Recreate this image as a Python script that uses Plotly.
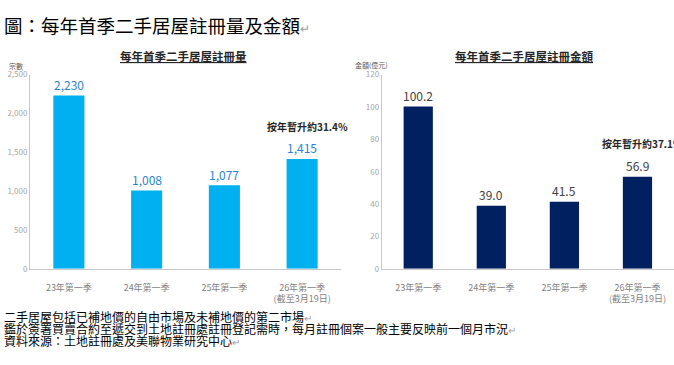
import plotly.graph_objects as go

# ---- data ----
categories = ["23年第一季", "24年第一季", "25年第一季", "26年第一季<br>(截至3月19日)"]
registrations = [2230, 1008, 1077, 1415]
amounts = [100.2, 39.0, 41.5, 56.9]
reg_ticks = [0, 500, 1000, 1500, 2000, 2500]
reg_tick_labels = ["0", "500", "1,000", "1,500", "2,000", "2,500"]
amt_ticks = [0, 20, 40, 60, 80, 100, 120]

title_text = "圖：每年首季二手居屋註冊量及金額"
left_title = "每年首季二手居屋註冊量"
right_title = "每年首季二手居屋註冊金額"
left_yoy = "按年暫升約31.4%"
right_yoy = "按年暫升約37.1%"
left_unit = "宗數"
right_unit = "金額(億元)"
notes = [
    "二手居屋包括已補地價的自由市場及未補地價的第二市場",
    "鑑於簽署買賣合約至遞交到土地註冊處註冊登記需時，每月註冊個案一般主要反映前一個月市況",
    "資料來源：土地註冊處及美聯物業研究中心",
]

W, H = 674, 365
FONT = "Noto Sans CJK TC"

def px(x):
    return x / W

def py(y):
    return 1 - y / H

fig = go.Figure()
fig.add_trace(go.Bar(
    x=categories, y=registrations, xaxis="x", yaxis="y",
    marker=dict(color="#00b0f0", line=dict(width=0)),
    hoverinfo="skip",
))
fig.add_trace(go.Bar(
    x=categories, y=amounts, xaxis="x2", yaxis="y2",
    marker=dict(color="#002060", line=dict(width=0)),
    hoverinfo="skip",
))

ydom = [py(271), py(70.7)]
axis_common = dict(showgrid=False, zeroline=False, ticks="", showline=True,
                   linecolor="#c8c8c8", linewidth=1)
fig.update_layout(
    width=W, height=H,
    margin=dict(l=0, r=0, t=0, b=0),
    paper_bgcolor="white", plot_bgcolor="white",
    showlegend=False,
    bargap=0.6,
    font=dict(family=FONT),
    xaxis=dict(domain=[px(30), px(341)], range=[-0.5, 3.5], anchor="y",
               tickfont=dict(size=9, color="#7f7f7f"), ticklabelstandoff=10, **axis_common),
    yaxis=dict(domain=ydom, range=[0, 2500], anchor="x",
               tickvals=reg_ticks, ticktext=reg_tick_labels,
               tickfont=dict(size=8, color="#a6a6a6"), **axis_common),
    xaxis2=dict(domain=[px(381.7), 1.0], range=[-0.5, 3.5], anchor="y2",
                tickfont=dict(size=9, color="#7f7f7f"), ticklabelstandoff=10, **axis_common),
    yaxis2=dict(domain=ydom, range=[0, 120], anchor="x2",
                tickvals=amt_ticks,
                tickfont=dict(size=8, color="#a6a6a6"), **axis_common),
)

ann = []
# value labels drawn through the axes' own scales
for c, v in zip(categories, registrations):
    ann.append(dict(text=f"{v:,}", x=c, y=v, xref="x", yref="y", yshift=11,
                    xanchor="center", yanchor="middle",
                    font=dict(size=12, color="#2a84d6")))
for c, v in zip(categories, amounts):
    ann.append(dict(text=f"{v:.1f}", x=c, y=v, xref="x2", yref="y2", yshift=11,
                    xanchor="center", yanchor="middle",
                    font=dict(size=12, color="#404040")))

paper = []
paper.append(dict(text=title_text + "<span style='color:#a0a0a0;font-size:12px'>↵</span>",
                  x=px(2), y=py(20), xanchor="left", yanchor="middle",
                  font=dict(size=18.5, color="#000000")))
paper.append(dict(text="<u>" + left_title + "</u>", x=px(183), y=py(51.5),
                  xanchor="center", yanchor="middle",
                  font=dict(size=11.5, color="#262626", weight="bold")))
paper.append(dict(text="<u>" + right_title + "</u>", x=px(523.5), y=py(51.5),
                  xanchor="center", yanchor="middle",
                  font=dict(size=11.5, color="#262626", weight="bold")))
paper.append(dict(text=left_unit, x=px(16), y=py(61.5), xanchor="center", yanchor="middle",
                  font=dict(size=7, color="#595959")))
paper.append(dict(text=right_unit, x=px(371.5), y=py(60.7), xanchor="center", yanchor="middle",
                  font=dict(size=7, color="#595959")))
paper.append(dict(text=left_yoy, x=px(264.5), y=py(124.5), xanchor="left", yanchor="middle",
                  font=dict(size=10, color="#262626", weight="bold")))
paper.append(dict(text=right_yoy, x=px(600), y=py(141.7), xanchor="left", yanchor="middle",
                  font=dict(size=10, color="#262626", weight="bold")))
for i, line in enumerate(notes):
    paper.append(dict(text=line + "<span style='color:#a0a0a0;font-size:10px'>↵</span>",
                      x=px(1.5), y=py(320.5 + 12.3 * i), xanchor="left", yanchor="middle",
                      font=dict(size=12, color="#000000")))
for a in paper:
    a.update(xref="paper", yref="paper")
ann.extend(paper)
for a in ann:
    a.update(showarrow=False)
fig.update_layout(annotations=ann)

fig.write_html("out.html",
               config={"displayModeBar": False, "staticPlot": True},
               post_script="document.body.style.margin='0';document.body.style.overflow='hidden';")
